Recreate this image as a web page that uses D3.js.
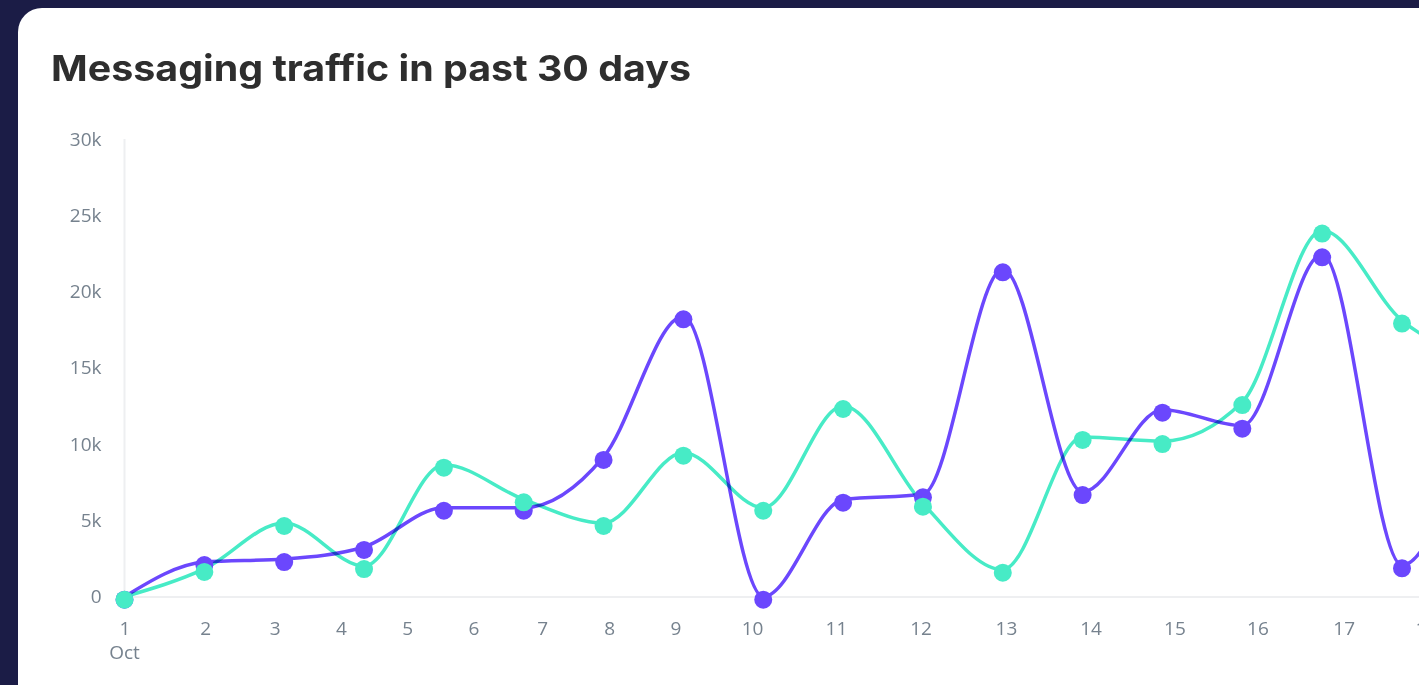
<!DOCTYPE html>
<html>
<head>
<meta charset="utf-8">
<script src="https://cdnjs.cloudflare.com/ajax/libs/d3/7.8.5/d3.min.js"></script>
<style>
  html, body { margin: 0; padding: 0; background: #1b1c46; overflow: hidden; }
  svg { display: block; }
</style>
</head>
<body>
<script>
// one sample per day (messages)
var purpleSeries = [0, 2270, 2470, 3260, 5830, 5830, 9160, 18380, 0, 6360, 6710, 21460, 6860, 12260, 11210, 22440, 2060, 14000];
var greenSeries  = [0, 1820, 4830, 2010, 8650, 6380, 4830, 9440, 5830, 12500, 6100, 1770, 10470, 10200, 12760, 24000, 18100, 15500];

// day labels and where each midnight falls on the sample index axis
var dayLabels = ["1", "2", "3", "4", "5", "6", "7", "8", "9", "10", "11", "12", "13", "14", "15", "16", "17", "18"];
var dayTickAt = [0, 1.01, 1.88, 2.71, 3.54, 4.37, 5.23, 6.07, 6.90, 7.86, 8.91, 9.97, 11.04, 12.10, 13.15, 14.19, 15.27, 16.3];
var monthLabel = "Oct";

var yTicks = [0, 5000, 10000, 15000, 20000, 25000, 30000];

var W = 1419, H = 685;

var svg = d3.select("body").append("svg")
    .attr("width", W)
    .attr("height", H);

// white card, runs off the right edge
svg.append("rect")
    .attr("x", 18)
    .attr("y", 8)
    .attr("width", 1600)
    .attr("height", 800)
    .attr("rx", 24)
    .attr("fill", "#fff");

svg.append("text")
    .attr("x", 51)
    .attr("y", 81)
    .attr("fill", "#2e2e2e")
    .attr("font-family", "Inter, 'Open Sans', sans-serif")
    .attr("font-weight", 700)
    .attr("font-size", 36)
    .attr("textLength", 640)
    .attr("lengthAdjust", "spacingAndGlyphs")
    .text("Messaging traffic in past 30 days");

var x = d3.scaleLinear()
    .domain([0, 16])
    .range([124.5, 1402]);

var y = d3.scaleLinear()
    .domain([0, 30000])
    .range([596.7, 139]);

var labelColor = "#76828e";
var labelFont = "'Open Sans', sans-serif";

// y axis labels
var yAxis = d3.axisLeft(y)
    .tickValues(yTicks)
    .tickSize(0)
    .tickPadding(23)
    .tickFormat(function(d) { return d ? (d / 1000) + "k" : "0"; });

var yg = svg.append("g")
    .attr("transform", "translate(124.5,0)")
    .call(yAxis);
yg.select(".domain").remove();
yg.selectAll("text")
    .attr("fill", labelColor)
    .attr("font-family", labelFont)
    .attr("font-size", 19);

// axis lines
svg.append("line")
    .attr("x1", 124.5).attr("x2", 124.5)
    .attr("y1", 139).attr("y2", 597)
    .attr("stroke", "#eeeff1")
    .attr("stroke-width", 2);
svg.append("line")
    .attr("x1", 124.5).attr("x2", W)
    .attr("y1", 597).attr("y2", 597)
    .attr("stroke", "#eeeff1")
    .attr("stroke-width", 2);

// x axis labels
var xAxis = d3.axisBottom(x)
    .tickValues(dayTickAt)
    .tickSize(0)
    .tickPadding(25)
    .tickFormat(function(d, i) { return dayLabels[i]; });

var xg = svg.append("g")
    .attr("transform", "translate(0,597)")
    .call(xAxis);
xg.select(".domain").remove();
xg.selectAll("text")
    .attr("fill", labelColor)
    .attr("font-family", labelFont)
    .attr("font-size", 19);

svg.append("text")
    .attr("x", x(dayTickAt[0]))
    .attr("y", 659)
    .attr("text-anchor", "middle")
    .attr("fill", labelColor)
    .attr("font-family", labelFont)
    .attr("font-size", 19)
    .text(monthLabel);

var line = d3.line()
    .x(function(d, i) { return x(i); })
    .y(function(d) { return y(d); })
    .curve(d3.curveMonotoneX);

var series = [
  { values: purpleSeries, color: "#6b47fd" },
  { values: greenSeries, color: "#47ebc6" }
];

svg.append("g")
  .selectAll("path")
    .data(series)
  .enter().append("path")
    .attr("d", function(d) { return line(d.values); })
    .attr("fill", "none")
    .attr("stroke", function(d) { return d.color; })
    .attr("stroke-width", 3.5)
    .attr("stroke-linejoin", "round")
    .style("mix-blend-mode", "multiply");

var dots = svg.append("g")
    .attr("transform", "translate(0,3)");

series.forEach(function(s) {
  dots.append("g")
    .selectAll("circle")
      .data(s.values)
    .enter().append("circle")
      .attr("cx", function(d, i) { return x(i); })
      .attr("cy", function(d) { return y(d); })
      .attr("r", 9)
      .attr("fill", s.color);
});
</script>
</body>
</html>
